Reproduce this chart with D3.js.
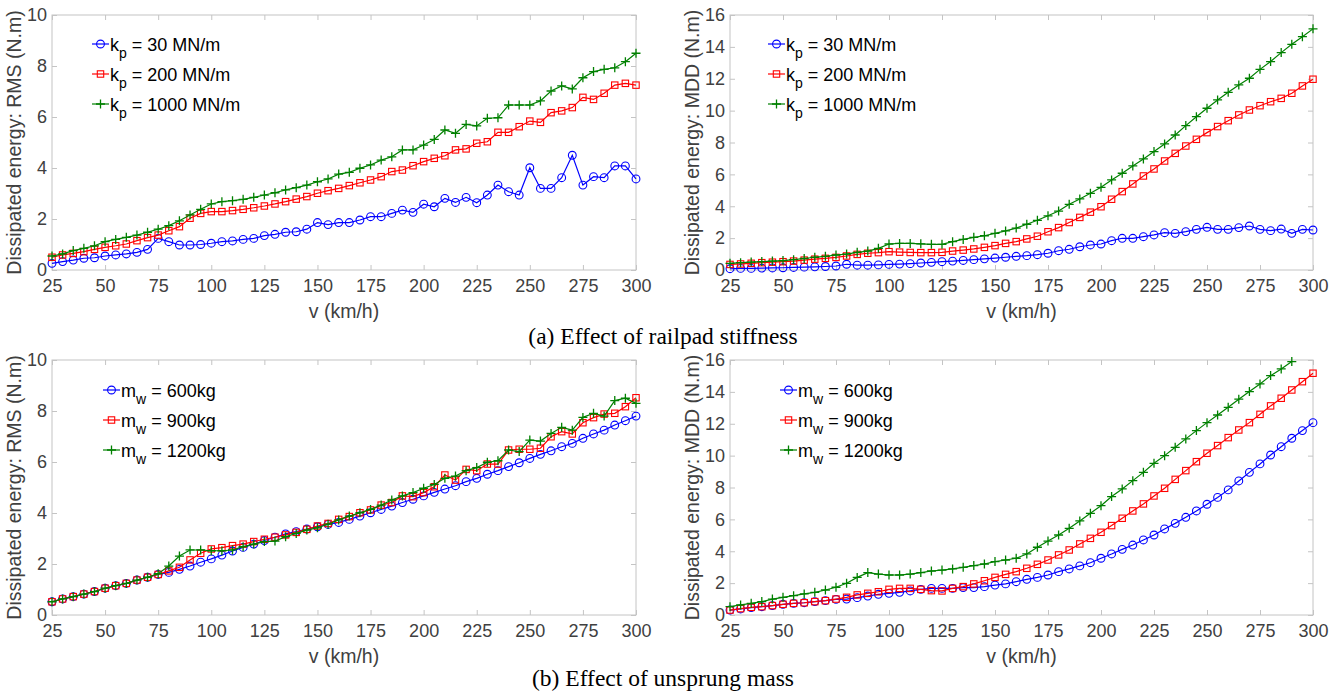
<!DOCTYPE html>
<html>
<head>
<meta charset="utf-8">
<script src="https://cdn.jsdelivr.net/npm/d3@7"></script>
<style>
  html, body { margin: 0; padding: 0; background: #fff; }
  svg { display: block; }
</style>
</head>
<body>
<svg id="chart" width="1343" height="696"></svg>
<script>
// ---------------- DATA ----------------
const speeds = [25,30,35,40,45,50,55,60,65,70,75,80,85,90,95,100,105,110,115,120,
  125,130,135,140,145,150,155,160,165,170,175,180,185,190,195,200,205,210,215,220,
  225,230,235,240,245,250,255,260,265,270,275,280,285,290,295,300];
const xTicks = [25,50,75,100,125,150,175,200,225,250,275,300];
const yTicksRMS = [0,2,4,6,8,10];
const yTicksMDD = [0,2,4,6,8,10,12,14,16];

// (a) railpad stiffness, RMS
const rmsKp30 = [0.26,0.33,0.39,0.46,0.48,0.55,0.59,0.63,0.69,0.81,
  1.24,1.11,0.98,0.98,1.0,1.05,1.11,1.14,1.2,1.24,
  1.35,1.4,1.48,1.5,1.6,1.86,1.78,1.86,1.86,1.96,
  2.09,2.09,2.22,2.35,2.26,2.58,2.48,2.81,2.65,2.85,
  2.64,2.94,3.33,3.07,2.94,4.01,3.2,3.2,3.62,4.5,
  3.33,3.66,3.62,4.08,4.08,3.57];
const rmsKp200 = [0.5,0.59,0.65,0.72,0.81,0.89,0.95,1.02,1.15,1.27,
  1.37,1.54,1.7,2.03,2.22,2.29,2.29,2.33,2.38,2.44,
  2.51,2.59,2.68,2.78,2.88,3.01,3.11,3.2,3.31,3.42,
  3.53,3.66,3.86,3.92,4.09,4.25,4.38,4.48,4.71,4.75,
  4.97,5.03,5.4,5.4,5.62,5.84,5.79,6.17,6.24,6.37,
  6.77,6.69,6.93,7.25,7.32,7.25];
const rmsKp1000 = [0.55,0.63,0.76,0.85,0.95,1.11,1.2,1.28,1.37,1.48,
  1.6,1.74,1.93,2.16,2.38,2.59,2.68,2.72,2.77,2.85,
  2.94,3.03,3.14,3.23,3.33,3.46,3.57,3.76,3.83,3.99,
  4.12,4.31,4.44,4.71,4.71,4.9,5.12,5.49,5.36,5.71,
  5.65,5.95,5.97,6.47,6.47,6.47,6.63,7.02,7.22,7.1,
  7.54,7.78,7.87,7.93,8.17,8.5];

// (a) railpad stiffness, MDD
const mddKp30 = [0.08,0.1,0.1,0.12,0.13,0.14,0.16,0.18,0.2,0.22,
  0.25,0.36,0.3,0.3,0.32,0.35,0.37,0.4,0.44,0.48,
  0.52,0.56,0.6,0.65,0.7,0.75,0.8,0.86,0.9,0.96,
  1.05,1.21,1.3,1.46,1.57,1.63,1.84,1.99,1.99,2.09,
  2.2,2.34,2.3,2.41,2.55,2.68,2.55,2.55,2.66,2.76,
  2.55,2.47,2.57,2.3,2.55,2.51];
const mddKp200 = [0.35,0.38,0.42,0.46,0.49,0.52,0.56,0.62,0.68,0.73,
  0.79,0.88,0.98,1.05,1.09,1.15,1.12,1.1,1.09,1.09,
  1.11,1.19,1.25,1.32,1.42,1.53,1.67,1.78,1.95,2.12,
  2.4,2.66,2.98,3.3,3.63,3.97,4.44,4.92,5.4,5.9,
  6.34,6.84,7.32,7.78,8.2,8.62,9.0,9.37,9.73,10.04,
  10.31,10.56,10.77,11.09,11.55,11.97];
const mddKp1000 = [0.42,0.46,0.5,0.53,0.56,0.59,0.65,0.72,0.8,0.86,
  0.94,1.0,1.11,1.19,1.36,1.63,1.67,1.67,1.64,1.61,
  1.61,1.78,1.92,2.05,2.15,2.3,2.45,2.63,2.87,3.12,
  3.4,3.7,4.12,4.46,4.81,5.19,5.65,6.07,6.53,6.97,
  7.43,7.91,8.47,9.06,9.62,10.15,10.67,11.15,11.61,12.03,
  12.59,13.08,13.64,14.16,14.64,15.13];

// (b) unsprung mass, RMS
const rmsMw600 = [0.52,0.63,0.72,0.82,0.92,1.05,1.15,1.24,1.37,1.48,
  1.59,1.67,1.79,1.92,2.07,2.2,2.35,2.51,2.65,2.78,
  2.92,3.05,3.18,3.27,3.37,3.46,3.55,3.63,3.75,3.88,
  4.01,4.14,4.27,4.41,4.54,4.67,4.81,4.94,5.07,5.23,
  5.36,5.52,5.66,5.82,5.97,6.14,6.3,6.44,6.6,6.73,
  6.93,7.1,7.25,7.45,7.62,7.8];
const rmsMw900 = [0.52,0.63,0.72,0.82,0.92,1.05,1.15,1.24,1.37,1.48,
  1.59,1.73,1.87,2.16,2.42,2.59,2.64,2.72,2.78,2.88,
  2.97,3.05,3.14,3.24,3.36,3.49,3.59,3.75,3.86,4.01,
  4.12,4.31,4.41,4.67,4.64,4.8,5.03,5.49,5.29,5.71,
  5.66,5.92,5.92,6.47,6.5,6.5,6.54,6.99,7.19,7.1,
  7.54,7.74,7.88,7.91,8.17,8.52];
const rmsMw1200 = [0.52,0.63,0.72,0.82,0.92,1.05,1.15,1.24,1.37,1.48,
  1.62,1.92,2.31,2.55,2.55,2.52,2.52,2.55,2.68,2.78,
  2.88,2.9,3.07,3.2,3.33,3.42,3.56,3.73,3.88,4.01,
  4.14,4.31,4.51,4.67,4.8,4.97,5.12,5.36,5.45,5.66,
  5.78,5.99,6.05,6.47,6.41,6.86,6.82,7.12,7.36,7.25,
  7.75,7.91,7.8,8.41,8.5,8.3];

// (b) unsprung mass, MDD
const mddMw600 = [0.31,0.38,0.46,0.52,0.59,0.67,0.73,0.77,0.84,0.9,
  0.98,1.0,1.09,1.19,1.3,1.36,1.42,1.51,1.61,1.67,
  1.67,1.67,1.72,1.72,1.78,1.88,1.95,2.09,2.24,2.36,
  2.51,2.72,2.89,3.08,3.28,3.56,3.83,4.12,4.39,4.71,
  5.02,5.4,5.75,6.13,6.53,6.95,7.38,7.85,8.41,8.95,
  9.48,10.04,10.56,11.09,11.57,12.07];
const mddMw900 = [0.31,0.4,0.48,0.52,0.59,0.67,0.73,0.77,0.84,0.9,
  1.0,1.11,1.26,1.36,1.46,1.61,1.67,1.67,1.61,1.53,
  1.51,1.67,1.78,1.95,2.15,2.36,2.55,2.72,2.93,3.18,
  3.45,3.77,4.08,4.46,4.81,5.19,5.61,6.07,6.53,6.97,
  7.47,7.95,8.51,9.06,9.62,10.15,10.63,11.13,11.61,12.07,
  12.59,13.12,13.6,14.12,14.64,15.17];
const mddMw1200 = [0.52,0.63,0.73,0.84,1.0,1.11,1.21,1.32,1.42,1.57,
  1.74,1.99,2.36,2.66,2.57,2.51,2.51,2.57,2.66,2.76,
  2.82,2.89,2.99,3.1,3.2,3.35,3.45,3.56,3.83,4.25,
  4.64,5.02,5.44,5.9,6.38,6.86,7.43,7.91,8.43,8.95,
  9.52,10.0,10.52,11.05,11.57,12.07,12.55,13.03,13.54,14.02,
  14.5,15.02,15.44,15.9,null,null];

const kpLegend = [["k","p"," = 30 MN/m"],["k","p"," = 200 MN/m"],["k","p"," = 1000 MN/m"]];
const mwLegend = [["m","w"," = 600kg"],["m","w"," = 900kg"],["m","w"," = 1200kg"]];
const yLabelRMS = "Dissipated energy: RMS (N.m)";
const yLabelMDD = "Dissipated energy: MDD (N.m)";
const xLabel = "v (km/h)";
const captionA = "(a) Effect of railpad stiffness";
const captionB = "(b) Effect of unsprung mass";

// ---------------- STYLE ----------------
const seriesStyle = [
  {color: "#0000ff", marker: "circle"},
  {color: "#ff0000", marker: "square"},
  {color: "#008000", marker: "plus"}
];
const axisColor = "#c4c4c4";
const textColor = "#404040";
const sans = "'Liberation Sans', Arial, sans-serif";
const serif = "'Liberation Serif', 'Times New Roman', serif";

const panels = [
  {left: 52, right: 636, top: 15, bottom: 270, yTicks: yTicksRMS, yLabel: yLabelRMS,
   series: [rmsKp30, rmsKp200, rmsKp1000], legend: kpLegend, lgX: 40, lgY: 29},
  {left: 730, right: 1313, top: 15, bottom: 270, yTicks: yTicksMDD, yLabel: yLabelMDD,
   series: [mddKp30, mddKp200, mddKp1000], legend: kpLegend, lgX: 38, lgY: 29},
  {left: 52, right: 636, top: 360, bottom: 615, yTicks: yTicksRMS, yLabel: yLabelRMS,
   series: [rmsMw600, rmsMw900, rmsMw1200], legend: mwLegend, lgX: 51, lgY: 30},
  {left: 730, right: 1313, top: 360, bottom: 615, yTicks: yTicksMDD, yLabel: yLabelMDD,
   series: [mddMw600, mddMw900, mddMw1200], legend: mwLegend, lgX: 50, lgY: 30}
];

const svg = d3.select("#chart");

function drawMarker(sel, type, color) {
  if (type === "circle") {
    sel.append("circle").attr("r", 3.9).attr("fill", "none")
      .attr("stroke", color).attr("stroke-width", 1.1);
  } else if (type === "square") {
    sel.append("rect").attr("x", -3.2).attr("y", -3.2).attr("width", 6.4).attr("height", 6.4)
      .attr("fill", "none").attr("stroke", color).attr("stroke-width", 1.1);
  } else {
    sel.append("path").attr("d", "M-4.5,0H4.5M0,-4.5V4.5")
      .attr("fill", "none").attr("stroke", color).attr("stroke-width", 1.3);
  }
}

panels.forEach(p => {
  const g = svg.append("g");
  const x = d3.scaleLinear().domain([25, 300]).range([p.left, p.right]);
  const yMax = p.yTicks[p.yTicks.length - 1];
  const y = d3.scaleLinear().domain([0, yMax]).range([p.bottom, p.top]);

  // Box
  g.append("rect").attr("x", p.left).attr("y", p.top)
    .attr("width", p.right - p.left).attr("height", p.bottom - p.top)
    .attr("fill", "none").attr("stroke", axisColor).attr("stroke-width", 1);

  const styleAxis = (ax, showText) => {
    ax.select(".domain").remove();
    ax.selectAll(".tick line").attr("stroke", axisColor).attr("stroke-width", 1);
    ax.selectAll(".tick text").attr("fill", textColor)
      .style("font-family", sans).style("font-size", "18px");
    if (!showText) ax.selectAll(".tick text").remove();
  };

  const xb = g.append("g").attr("transform", `translate(0,${p.bottom})`)
    .call(d3.axisBottom(x).tickValues(xTicks).tickSizeInner(-5).tickSizeOuter(0).tickPadding(9.5));
  styleAxis(xb, true);
  const xt = g.append("g").attr("transform", `translate(0,${p.top})`)
    .call(d3.axisTop(x).tickValues(xTicks).tickSizeInner(-5).tickSizeOuter(0));
  styleAxis(xt, false);
  const yl = g.append("g").attr("transform", `translate(${p.left},0)`)
    .call(d3.axisLeft(y).tickValues(p.yTicks).tickSizeInner(-5).tickSizeOuter(0).tickPadding(5));
  styleAxis(yl, true);
  const yr = g.append("g").attr("transform", `translate(${p.right},0)`)
    .call(d3.axisRight(y).tickValues(p.yTicks).tickSizeInner(-5).tickSizeOuter(0));
  styleAxis(yr, false);

  // Axis titles
  g.append("text").attr("x", (p.left + p.right) / 2).attr("y", p.bottom + 48)
    .attr("text-anchor", "middle").attr("fill", textColor)
    .style("font-family", sans).style("font-size", "19.5px").text(xLabel);
  g.append("text")
    .attr("transform", `translate(${p.left - 31},${(p.top + p.bottom) / 2}) rotate(-90)`)
    .attr("text-anchor", "middle").attr("fill", textColor)
    .style("font-family", sans).style("font-size", "19.5px").text(p.yLabel);

  // Series
  p.series.forEach((vals, i) => {
    const st = seriesStyle[i];
    const pts = speeds.map((s, k) => ({s, v: vals[k]})).filter(d => d.v !== null);
    const line = d3.line().x(d => x(d.s)).y(d => y(d.v));
    g.append("path").datum(pts).attr("d", line)
      .attr("fill", "none").attr("stroke", st.color).attr("stroke-width", 1.2);
    g.append("g").selectAll("g").data(pts).join("g")
      .attr("transform", d => `translate(${x(d.s)},${y(d.v)})`)
      .each(function () { drawMarker(d3.select(this), st.marker, st.color); });
  });

  // Legend
  p.legend.forEach((lab, i) => {
    const st = seriesStyle[i];
    const ly = p.top + p.lgY + i * 30;
    const lx = p.left + p.lgX;
    g.append("line").attr("x1", lx).attr("x2", lx + 17).attr("y1", ly).attr("y2", ly)
      .attr("stroke", st.color).attr("stroke-width", 1.2);
    drawMarker(g.append("g").attr("transform", `translate(${lx + 8.5},${ly})`), st.marker, st.color);
    const t = g.append("text").attr("x", lx + 18).attr("y", ly + 6.5)
      .attr("fill", "#000").style("font-family", sans).style("font-size", "18px");
    t.append("tspan").text(lab[0]);
    t.append("tspan").attr("dy", 7).style("font-size", "14px").text(lab[1]);
    t.append("tspan").attr("dy", -7).text(lab[2]);
  });
});

// Captions
svg.append("text").attr("x", 663).attr("y", 344).attr("text-anchor", "middle")
  .attr("fill", "#000").style("font-family", serif).style("font-size", "23.5px").text(captionA);
svg.append("text").attr("x", 663).attr("y", 686).attr("text-anchor", "middle")
  .attr("fill", "#000").style("font-family", serif).style("font-size", "23.5px").text(captionB);
</script>
</body>
</html>
